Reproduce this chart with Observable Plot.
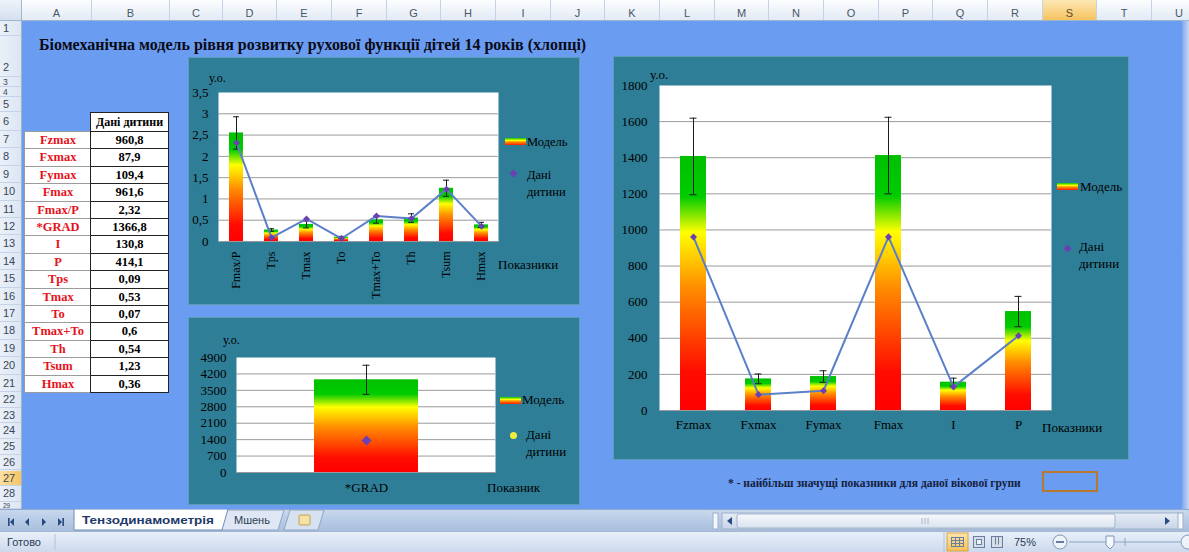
<!DOCTYPE html>
<html>
<head>
<meta charset="utf-8">
<script src="https://cdn.jsdelivr.net/npm/d3@7"></script>
<script src="https://cdn.jsdelivr.net/npm/@observablehq/plot@0.6"></script>
<style>
  body { margin: 0; background: #fff; }
  #sheet { position: relative; width: 1189px; height: 552px; overflow: hidden; background: #6A9CF2; }
</style>
</head>
<body>
<svg width="0" height="0" style="position:absolute">
  <defs>
    <linearGradient id="modelGrad" x1="0" y1="1" x2="0" y2="0">
      <stop offset="0" stop-color="#FF0000"/>
      <stop offset="0.15" stop-color="#FF0C00"/>
      <stop offset="0.48" stop-color="#FF8C00"/>
      <stop offset="0.70" stop-color="#FFFF00"/>
      <stop offset="0.84" stop-color="#00CC00"/>
      <stop offset="1" stop-color="#00C000"/>
    </linearGradient>
  </defs>
</svg>
<div id="sheet"></div>
<script>
// ---- Sheet table: child measurements ----
const tableLabels = ["Fzmax", "Fxmax", "Fymax", "Fmax", "Fmax/P", "*GRAD", "I", "P", "Tps", "Tmax", "To", "Tmax+To", "Th", "Tsum", "Hmax"];
const tableValues = ["960,8", "87,9", "109,4", "961,6", "2,32", "1366,8", "130,8", "414,1", "0,09", "0,53", "0,07", "0,6", "0,54", "1,23", "0,36"];

// ---- Time / ratio indicators ----
const timeCats = ["Fmax/P", "Tps", "Tmax", "To", "Tmax+To", "Th", "Tsum", "Hmax"];
const timeModel = [2.55, 0.27, 0.40, 0.10, 0.51, 0.55, 1.25, 0.39];
const timeSD = [0.38, 0.03, 0.08, 0.02, 0.08, 0.10, 0.19, 0.06];
const timeChild = [2.32, 0.09, 0.53, 0.07, 0.6, 0.54, 1.23, 0.36];
const timeTicks = [0, 0.5, 1, 1.5, 2, 2.5, 3, 3.5];

// ---- Gradient indicator ----
const gradCats = ["*GRAD"];
const gradModel = [3950];
const gradSD = [620];
const gradChild = [1366.8];
const gradTicks = [0, 700, 1400, 2100, 2800, 3500, 4200, 4900];

// ---- Force indicators ----
const forceCats = ["Fzmax", "Fxmax", "Fymax", "Fmax", "I", "P"];
const forceModel = [1407, 175, 188, 1412, 157, 548];
const forceSD = [212, 27, 32, 212, 22, 84];
const forceChild = [960.8, 87.9, 109.4, 961.6, 130.8, 414.1];
const forceTicks = [0, 200, 400, 600, 800, 1000, 1200, 1400, 1600, 1800];

// ---- Spreadsheet chrome ----
const colLetters = ["A","B","C","D","E","F","G","H","I","J","K","L","M","N","O","P","Q","R","S","T","U"];
const colEdges = [22, 92, 170, 223, 277, 332, 387, 441, 496, 551, 605, 660, 715, 769, 824, 879, 933, 988, 1043, 1097, 1152, 1207];
const sheetTitle = "Біомеханічна модель рівня розвитку рухової функції дітей 14 років (хлопці)";
const footnote = "* - найбільш значущі показники для даної вікової групи";
const sheetTabs = ["Тензодинамометрія", "Мшень"];

const SERIF = "'Liberation Serif', 'Times New Roman', serif";
const SANS = "'Liberation Sans', Arial, sans-serif";
const sheet = document.getElementById("sheet");

function box(parent, css, text) {
  const d = document.createElement("div");
  d.style.cssText = "position:absolute;box-sizing:border-box;" + css;
  if (text != null) d.textContent = text;
  parent.appendChild(d);
  return d;
}

// Column header strip
const colHead = box(sheet, "left:0;top:0;width:1189px;height:21px;background:linear-gradient(#FDFEFF,#E2EAF5);border-bottom:1px solid #9EB6CE;");
box(colHead, "left:0;top:0;width:22px;height:20px;background:linear-gradient(#EEF3FA,#D5E0EF);border-right:1px solid #9EB6CE;");
colLetters.forEach((L, i) => {
  const x0 = colEdges[i], x1 = colEdges[i + 1];
  const sel = L === "S";
  box(colHead, `left:${x0}px;top:0;width:${x1 - x0}px;height:20px;padding-top:7px;line-height:13px;text-align:center;font:11px ${SANS};color:#4A5568;border-right:1px solid #C5D3E6;` +
    (sel ? "background:linear-gradient(#FCE7B5,#F5C35F);color:#5A4A2A;" : ""), L);
});

// Row header strip
const rowEdges = [21, 36, 77, 87, 97, 112, 131];
for (let k = 1; k <= 15; k++) rowEdges.push(131 + k * 17.4);
for (let k = 1; k <= 7; k++) rowEdges.push(392 + k * 15.7);
rowEdges.push(509);
const rowHead = box(sheet, "left:0;top:21px;width:22px;height:488px;background:linear-gradient(90deg,#EAF0F8,#DCE6F3);border-right:1px solid #9EB6CE;overflow:hidden;");
for (let r = 0; r < rowEdges.length - 1; r++) {
  const n = r + 1;
  const y0 = rowEdges[r] - 21, h = rowEdges[r + 1] - rowEdges[r];
  const sel = n === 27;
  let txt;
  if (n === 2) txt = "padding-top:24px;line-height:14px;font-size:11px;";
  else if (h < 8) txt = `line-height:${h}px;font-size:6.5px;`;
  else if (h < 11) txt = `line-height:${h}px;font-size:8.5px;`;
  else txt = `line-height:${h}px;font-size:11px;`;
  box(rowHead, `left:0;top:${y0}px;width:22px;height:${h}px;font-family:${SANS};${txt}text-align:left;padding-left:3px;color:#3C4656;border-bottom:1px solid #C5D3E6;` +
    (sel ? "background:linear-gradient(90deg,#FBE0A0,#F5C35F);" : ""), String(n));
}

// Title
box(sheet, `left:39px;top:37px;white-space:nowrap;font:bold 16px ${SERIF};color:#0A0A14;line-height:16px;`, sheetTitle);

// Data table
box(sheet, `left:90px;top:112px;width:79px;height:20px;background:#fff;border:1px solid #222;font:bold 12px ${SERIF};line-height:18px;text-align:center;color:#000;white-space:nowrap;`, "Дані дитини");
tableLabels.forEach((lab, i) => {
  const y = 131 + i * 17.4;
  box(sheet, `left:24px;top:${y}px;width:67px;height:18.4px;background:#fff;border:1px solid #9C9C9C;border-right:none;font:bold 12.5px ${SERIF};line-height:17px;text-align:center;color:#E5121C;`, lab);
  box(sheet, `left:90px;top:${y}px;width:79px;height:18.4px;background:#fff;border:1px solid #222;font:bold 12.5px ${SERIF};line-height:17px;text-align:center;color:#000;`, tableValues[i]);
});

// Commas for decimal tick labels
const commaFmt = d => String(d).replace(".", ",");

// Square diamond marker
const squareDiamond = {
  draw(ctx, size) {
    const r = Math.sqrt(size / 2);
    ctx.moveTo(0, -r); ctx.lineTo(r, 0); ctx.lineTo(0, r); ctx.lineTo(-r, 0); ctx.closePath();
  }
};

// Model bars (gradient fill) with ±SD error bars and the child's values on top
function modelChart(o) {
  const rows = o.cats.map((c, i) => ({
    cat: c,
    model: o.model[i],
    lo: o.model[i] - o.sd[i],
    hi: o.model[i] + o.sd[i],
    child: o.child[i]
  }));
  const ticks = o.ticks;
  return Plot.plot({
    width: o.width,
    height: o.height,
    marginTop: o.margin[0],
    marginRight: o.margin[1],
    marginBottom: o.margin[2],
    marginLeft: o.margin[3],
    style: { background: "transparent", fontFamily: SERIF, fontSize: o.yFont + "px", color: "#000", overflow: "visible" },
    x: { domain: o.cats, paddingInner: 0.6, paddingOuter: 0.3, label: null },
    y: { domain: [ticks[0], ticks[ticks.length - 1]], label: null },
    marks: [
      Plot.frame({ fill: "white", stroke: "none" }),
      Plot.gridY(ticks.slice(0, -1), { stroke: "#9A9A9A", strokeOpacity: 1 }),
      Plot.barY(rows, { x: "cat", y: "model", fill: "url(#modelGrad)" }),
      Plot.ruleX(rows, { x: "cat", y1: "lo", y2: "hi", stroke: "#1C1C1C", strokeWidth: 1 }),
      Plot.tickY(rows, { x: "cat", y: "lo", stroke: "#1C1C1C", insetLeft: o.capInset, insetRight: o.capInset }),
      Plot.tickY(rows, { x: "cat", y: "hi", stroke: "#1C1C1C", insetLeft: o.capInset, insetRight: o.capInset }),
      o.line ? Plot.line(rows, { x: "cat", y: "child", stroke: "#5B7FC8", strokeWidth: 2 }) : null,
      Plot.dot(rows, { x: "cat", y: "child", symbol: squareDiamond, r: o.dotR, fill: "#6B40B0", stroke: "none" }),
      Plot.axisY(ticks, { tickSize: 0, tickPadding: o.yPad, tickFormat: o.fmt, fill: "#000" }),
      Plot.axisX({ tickSize: 0, tickPadding: o.xPad, tickRotate: o.rotate, fontSize: o.xFont, fill: "#000" })
    ]
  });
}

function panel(left, top, w, h) {
  return box(sheet, `left:${left}px;top:${top}px;width:${w}px;height:${h}px;background:#2F7E97;box-shadow:inset 0 0 0 1px rgba(150,195,215,0.45);`);
}
function label(parent, css, text) {
  return box(parent, `white-space:nowrap;font:${css.font || "13px"} ${SERIF};color:#000;` + css.pos, text);
}
function legendModel(parent, sx, sy, tx, ty, fs) {
  box(parent, `left:${sx}px;top:${sy}px;width:21px;height:7px;background:linear-gradient(to top,#FF1A00,#FF9A00 45%,#FFFF00 65%,#00C800);`);
  label(parent, { pos: `left:${tx}px;top:${ty}px;line-height:16px;`, font: fs + "px" }, "Модель");
}
function legendChild(parent, mx, my, color, round, tx, ty, fs) {
  box(parent, `left:${mx - 3.5}px;top:${my - 3.5}px;width:7px;height:7px;background:${color};` +
    (round ? "border-radius:50%;" : "transform:rotate(45deg) scale(0.8);"));
  const d = label(parent, { pos: `left:${tx}px;top:${ty}px;line-height:16.5px;white-space:normal;`, font: fs + "px" }, "");
  d.innerHTML = "Дані<br>дитини";
}

// Panel 1: time and ratio indicators
const p1 = panel(188, 57, 392, 248);
p1.appendChild(modelChart({
  cats: timeCats, model: timeModel, sd: timeSD, child: timeChild, ticks: timeTicks,
  width: 392, height: 248, margin: [35, 82, 64, 30],
  fmt: commaFmt, yFont: 13, xFont: 12, yPad: 10, xPad: 10, rotate: -90,
  capInset: 4, dotR: 2.8, line: true
}));
label(p1, { pos: "left:21px;top:13px;line-height:16px;", font: "12px" }, "у.о.");
label(p1, { pos: "left:310px;top:200px;line-height:16px;", font: "13px" }, "Показники");
legendModel(p1, 317, 81, 339, 77, 12.5);
legendChild(p1, 325, 116, "#6B40B0", false, 339, 110, 12.5);

// Panel 2: gradient indicator
const p2 = panel(188, 317, 392, 188);
p2.appendChild(modelChart({
  cats: gradCats, model: gradModel, sd: gradSD, child: gradChild, ticks: gradTicks,
  width: 392, height: 188, margin: [40, 85, 33, 48],
  fmt: d => String(d), yFont: 13, xFont: 13, yPad: 10, xPad: 10, rotate: 0,
  capInset: 48.5, dotR: 4.0, line: false
}));
label(p2, { pos: "left:35px;top:15px;line-height:16px;", font: "12px" }, "у.о.");
label(p2, { pos: "left:299px;top:163px;line-height:16px;", font: "13px" }, "Показник");
legendModel(p2, 312, 80, 334, 75, 13);
legendChild(p2, 325, 118, "#F2EE3C", true, 338, 110, 13);

// Panel 3: force indicators
const p3 = panel(613, 56, 516, 404);
p3.appendChild(modelChart({
  cats: forceCats, model: forceModel, sd: forceSD, child: forceChild, ticks: forceTicks,
  width: 516, height: 404, margin: [29, 78, 50, 46],
  fmt: d => String(d), yFont: 13, xFont: 13, yPad: 12, xPad: 9, rotate: 0,
  capInset: 9.5, dotR: 2.8, line: true
}));
label(p3, { pos: "left:37px;top:11px;line-height:16px;", font: "13px" }, "у.о.");
label(p3, { pos: "left:429px;top:364px;line-height:16px;", font: "13px" }, "Показники");
legendModel(p3, 444, 127, 467, 123, 13);
legendChild(p3, 454, 192, "#6B40B0", false, 466, 183, 13);

// Footnote with framed marker cell
box(sheet, `left:728px;top:475px;white-space:nowrap;font:bold 11.5px ${SERIF};color:#14213D;line-height:16px;`, footnote);
box(sheet, "left:1042px;top:471px;width:56px;height:21px;border:2px solid #B8782E;");

// Thin vertical scrollbar at the right edge
box(sheet, "left:1182px;top:21px;width:7px;height:488px;background:linear-gradient(90deg,#7FA8F0,#C9D8EE);");

// Sheet tabs and status bar
const bottom = document.createElementNS("http://www.w3.org/2000/svg", "svg");
bottom.setAttribute("width", 1189);
bottom.setAttribute("height", 43);
bottom.style.cssText = "position:absolute;left:0;top:509px;";
bottom.innerHTML = `
  <defs>
    <linearGradient id="tabBar" x1="0" y1="0" x2="0" y2="1"><stop offset="0" stop-color="#C8D8EE"/><stop offset="1" stop-color="#A9BFDD"/></linearGradient>
    <linearGradient id="status" x1="0" y1="0" x2="0" y2="1"><stop offset="0" stop-color="#E9F0F9"/><stop offset="1" stop-color="#CCDAEE"/></linearGradient>
    <linearGradient id="track" x1="0" y1="0" x2="0" y2="1"><stop offset="0" stop-color="#E6ECF5"/><stop offset="1" stop-color="#C9D6E8"/></linearGradient>
    <linearGradient id="thumb" x1="0" y1="0" x2="0" y2="1"><stop offset="0" stop-color="#F7F9FC"/><stop offset="1" stop-color="#D9E2EE"/></linearGradient>
    <linearGradient id="viewSel" x1="0" y1="0" x2="0" y2="1"><stop offset="0" stop-color="#FCE6AE"/><stop offset="1" stop-color="#F4C15A"/></linearGradient>
  </defs>
  <rect x="0" y="0" width="1189" height="22" fill="url(#tabBar)"/>
  <line x1="0" y1="0.5" x2="1189" y2="0.5" stroke="#8FA8CC"/>
  <g fill="#274A80">
    <rect x="8" y="9" width="1.6" height="8"/><path d="M10,13 L14,9 L14,17 Z"/>
    <path d="M25,13 L29,9 L29,17 Z"/>
    <path d="M46,13 L42,9 L42,17 Z"/>
    <path d="M62,13 L58,9 L58,17 Z"/><rect x="62.4" y="9" width="1.6" height="8"/>
  </g>
  <path d="M290,1 L324,1 L318,21 L284,21 Z" fill="#D7E2F1" stroke="#8FA6C8"/>
  <rect x="299" y="6" width="11" height="10" rx="1" fill="#F3E3A8" stroke="#C5A04A"/>
  <path d="M226,1 L284,1 L278,21 L220,21 Z" fill="#DEE7F3" stroke="#8FA6C8"/>
  <path d="M74,0 L228,0 L222,21 L74,21 Z" fill="#FFFFFF" stroke="#6F8CB8"/>
  <text x="82" y="15" font-family="${SANS}" font-weight="bold" font-size="11.5" textLength="132" lengthAdjust="spacingAndGlyphs" fill="#1E3A6A">${sheetTabs[0]}</text>
  <text x="234" y="15" font-family="${SANS}" font-size="11" fill="#2E3B52">${sheetTabs[1]}</text>
  <rect x="706" y="2" width="483" height="19" fill="url(#tabBar)"/>
  <rect x="713" y="4" width="5" height="16" fill="#F4F7FB" stroke="#9DB0CC"/>
  <rect x="722" y="4" width="458" height="16" fill="url(#track)" stroke="#9DB0CC"/>
  <path d="M727,12 L732,8 L732,16 Z" fill="#274A80"/>
  <rect x="737" y="5" width="378" height="14" rx="2" fill="url(#thumb)" stroke="#A3B5CF"/>
  <g stroke="#A8B6C8"><line x1="922" y1="9" x2="922" y2="15"/><line x1="925" y1="9" x2="925" y2="15"/><line x1="928" y1="9" x2="928" y2="15"/></g>
  <path d="M1170,12 L1165,8 L1165,16 Z" fill="#274A80"/>
  <rect x="1178" y="4" width="5" height="16" fill="#F4F7FB" stroke="#9DB0CC"/>
  <rect x="0" y="22" width="1189" height="21" fill="url(#status)"/>
  <line x1="0" y1="22.5" x2="1189" y2="22.5" stroke="#A4B7D2"/>
  <line x1="55" y1="25" x2="55" y2="41" stroke="#B3C4DB"/>
  <text x="7" y="37" font-family="${SANS}" font-size="11" fill="#2A3A55">Готово</text>
  <line x1="944" y1="23" x2="944" y2="43" stroke="#B3C4DB"/>
  <rect x="947" y="24" width="21" height="18" fill="url(#viewSel)" stroke="#D9A441"/>
  <g fill="none" stroke="#6A7F9E">
    <rect x="951.5" y="28.5" width="12" height="9"/>
    <line x1="951.5" y1="31.5" x2="963.5" y2="31.5"/><line x1="951.5" y1="34.5" x2="963.5" y2="34.5"/>
    <line x1="955.5" y1="28.5" x2="955.5" y2="37.5"/><line x1="959.5" y1="28.5" x2="959.5" y2="37.5"/>
    <rect x="973.5" y="27.5" width="11" height="11" fill="#D6DEE9"/>
    <rect x="976.5" y="30.5" width="5" height="5" fill="#EEF2F7"/>
    <rect x="991.5" y="27.5" width="11" height="11" fill="#D6DEE9"/>
    <line x1="995.5" y1="27.5" x2="995.5" y2="35.5"/><line x1="998.5" y1="27.5" x2="998.5" y2="35.5"/>
  </g>
  <text x="1014" y="37" font-family="${SANS}" font-size="11" fill="#2A3A55">75%</text>
  <circle cx="1060" cy="33" r="7" fill="#EEF3FA" stroke="#7F95B6"/>
  <line x1="1056" y1="33" x2="1064" y2="33" stroke="#3A557F" stroke-width="1.5"/>
  <line x1="1069" y1="33" x2="1180" y2="33" stroke="#8FA3C1"/>
  <line x1="1125" y1="29" x2="1125" y2="37" stroke="#8FA3C1"/>
  <path d="M1106,27 L1114,27 L1114,36 L1110,40 L1106,36 Z" fill="#F5F8FC" stroke="#7F95B6"/>
  <circle cx="1188" cy="33" r="7" fill="#EEF3FA" stroke="#7F95B6"/>
`;
sheet.appendChild(bottom);
</script>
</body>
</html>
